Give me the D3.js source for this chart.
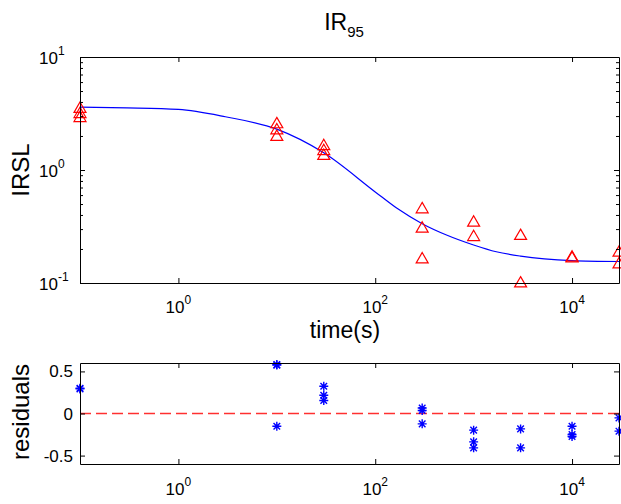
<!DOCTYPE html>
<html>
<head>
<meta charset="utf-8">
<script src="https://cdn.jsdelivr.net/npm/d3@7"></script>
<style>
  body { margin: 0; background: #fff; }
  text { font-family: "Liberation Sans", Arial, sans-serif; fill: #000; }
</style>
</head>
<body>
<script>
//measured IRSL points (triangles)
var dataTime = [0.1, 0.1, 0.1, 10, 10, 10, 30, 30, 30, 300, 300, 300, 1000, 1000, 3000, 3000, 10000, 10000, 30000, 30000];
var dataIrsl = [3.54, 3.19, 2.94, 2.59, 2.29, 2.0, 1.66, 1.5, 1.36, 0.458, 0.309, 0.165, 0.349, 0.26, 0.266, 0.101, 0.171, 0.168, 0.189, 0.149];

//fitted curve
var fitTime = [0.1, 0.3, 1, 3, 10, 30, 100, 165, 300, 530, 1000, 1700, 3000, 10000, 30000];
var fitIrsl = [3.6, 3.55, 3.44, 2.96, 2.3, 1.42, 0.64, 0.46, 0.335, 0.266, 0.217, 0.189, 0.173, 0.158, 0.155];

//residuals (stars)
var resTime = [0.1, 0.1, 10, 10, 10, 30, 30, 30, 300, 300, 300, 1000, 1000, 1000, 3000, 3000, 10000, 10000, 10000, 30000, 30000];
var resValue = [0.292, 0.3, 0.581, 0.575, -0.151, 0.324, 0.217, 0.154, 0.066, 0.036, -0.123, -0.198, -0.337, -0.408, -0.183, -0.408, -0.151, -0.249, -0.273, -0.052, -0.21];

//tick values and labels
var timeTicks = [1, 100, 10000];
var timeExp = ["0", "2", "4"];
var irslTicks = [0.1, 1, 10];
var irslExp = ["-1", "0", "1"];
var irslMinor = [0.2, 0.3, 0.4, 0.5, 0.6, 0.7, 0.8, 0.9, 2, 3, 4, 5, 6, 7, 8, 9];
var resTicks = [-0.5, 0, 0.5];
var resLabels = ["-0.5", "0", "0.5"];

window.onload = function(){
    var w = 621, h = 504;
    var left = 80, right = 619;

    var svg = d3.select("body")
        .append("svg")
        .attr("width", w)
        .attr("height", h)
        .style("background-color", "#fff");

    //shared log scale for time
    var x = d3.scaleLog()
        .domain([0.1, 30000])
        .range([left, right]);

    //top panel scale
    var y = d3.scaleLog()
        .domain([0.1, 10])
        .range([283, 57]);

    //residual panel scale
    var yr = d3.scaleLinear()
        .domain([-0.6, 0.6])
        .range([464, 363]);

    // ---------- top panel ----------
    var top = svg.append("g").attr("class", "topPanel");

    top.append("clipPath").attr("id", "clipTop")
        .append("rect")
        .attr("x", left).attr("y", 57)
        .attr("width", right - left).attr("height", 283 - 57);

    //fit curve
    var fit = fitTime.map(function(t, i){ return [t, fitIrsl[i]]; });
    var line = d3.line()
        .x(function(d){ return x(d[0]); })
        .y(function(d){ return y(d[1]); })
        .curve(d3.curveMonotoneX);
    top.append("path")
        .datum(fit)
        .attr("clip-path", "url(#clipTop)")
        .attr("d", line)
        .attr("fill", "none")
        .attr("stroke", "#0000ff")
        .attr("stroke-width", 1.2);

    //triangles
    var tri = d3.symbol().type(d3.symbolTriangle).size(62);
    top.selectAll(".tri")
        .data(dataTime)
        .enter()
        .append("path")
        .attr("class", "tri")
        .attr("d", tri)
        .attr("transform", function(d, i){
            return "translate(" + x(d) + "," + (y(dataIrsl[i]) + 1) + ")";
        })
        .attr("fill", "none")
        .attr("stroke", "#ff0000")
        .attr("stroke-width", 1.2);

    //axes: ticks point inwards like matlab
    drawBox(top, x, y, 57, 283, timeTicks, irslTicks, irslMinor);

    //x tick labels (10^n)
    top.selectAll(".xlab")
        .data(timeTicks)
        .enter()
        .append("text")
        .attr("class", "xlab")
        .attr("text-anchor", "middle")
        .attr("x", function(d){ return x(d); })
        .attr("y", 313)
        .style("font-size", "17px")
        .each(function(d, i){ powLabel(d3.select(this), timeExp[i]); });

    //y tick labels
    top.selectAll(".ylab")
        .data(irslTicks)
        .enter()
        .append("text")
        .attr("class", "ylab")
        .attr("x", 39)
        .attr("y", function(d){ return y(d) + 7; })
        .style("font-size", "17px")
        .each(function(d, i){ powLabel(d3.select(this), irslExp[i]); });

    //axis titles
    top.append("text")
        .attr("text-anchor", "middle")
        .attr("x", 345)
        .attr("y", 338)
        .style("font-size", "23px")
        .text("time(s)");

    top.append("text")
        .attr("text-anchor", "middle")
        .attr("transform", "translate(29,170) rotate(-90)")
        .style("font-size", "24px")
        .text("IRSL");

    //title with subscript
    var title = top.append("text")
        .attr("text-anchor", "middle")
        .attr("x", 344)
        .attr("y", 30)
        .style("font-size", "23px");
    title.append("tspan").text("IR");
    title.append("tspan")
        .attr("dy", 7)
        .style("font-size", "15px")
        .text("95");

    // ---------- residual panel ----------
    var bot = svg.append("g").attr("class", "residPanel");

    //zero line
    bot.append("line")
        .attr("x1", left).attr("x2", right)
        .attr("y1", yr(0)).attr("y2", yr(0))
        .attr("stroke", "#ff3030")
        .attr("stroke-width", 1.6)
        .attr("stroke-dasharray", "11,5");

    //star markers (+ and x overlaid)
    var s = 4.5, d2 = 3.3;
    var star = "M" + (-s) + ",0H" + s + "M0," + (-s) + "V" + s +
        "M" + (-d2) + "," + (-d2) + "L" + d2 + "," + d2 +
        "M" + (-d2) + "," + d2 + "L" + d2 + "," + (-d2);
    bot.selectAll(".star")
        .data(resTime)
        .enter()
        .append("path")
        .attr("class", "star")
        .attr("d", star)
        .attr("transform", function(d, i){
            return "translate(" + x(d) + "," + yr(resValue[i]) + ")";
        })
        .attr("fill", "none")
        .attr("stroke", "#0000ff")
        .attr("stroke-width", 1.4);

    drawBox(bot, x, yr, 363, 464, timeTicks, resTicks, []);

    bot.selectAll(".xlab2")
        .data(timeTicks)
        .enter()
        .append("text")
        .attr("text-anchor", "middle")
        .attr("x", function(d){ return x(d); })
        .attr("y", 495)
        .style("font-size", "17px")
        .each(function(d, i){ powLabel(d3.select(this), timeExp[i]); });

    bot.selectAll(".ylab2")
        .data(resTicks)
        .enter()
        .append("text")
        .attr("text-anchor", "end")
        .attr("x", 73)
        .attr("y", function(d){ return yr(d) + 6; })
        .style("font-size", "17px")
        .text(function(d, i){ return resLabels[i]; });

    bot.append("text")
        .attr("text-anchor", "middle")
        .attr("transform", "translate(29,412) rotate(-90)")
        .style("font-size", "24px")
        .text("residuals");

    //draws the four sides of an axes box with inward ticks
    function drawBox(g, xs, ys, y0, y1, xt, yt, ym){
        var inner = -5;
        g.append("g").attr("transform", "translate(0," + y1 + ")")
            .call(d3.axisBottom(xs).tickValues(xt).tickFormat("").tickSizeInner(inner).tickSizeOuter(0));
        g.append("g").attr("transform", "translate(0," + y0 + ")")
            .call(d3.axisTop(xs).tickValues(xt).tickFormat("").tickSizeInner(inner).tickSizeOuter(0));
        g.append("g").attr("transform", "translate(" + left + ",0)")
            .call(d3.axisLeft(ys).tickValues(yt).tickFormat("").tickSizeInner(inner).tickSizeOuter(0));
        g.append("g").attr("transform", "translate(" + right + ",0)")
            .call(d3.axisRight(ys).tickValues(yt).tickFormat("").tickSizeInner(inner).tickSizeOuter(0));
        if (ym.length){
            g.append("g").attr("transform", "translate(" + left + ",0)")
                .call(d3.axisLeft(ys).tickValues(ym).tickFormat("").tickSizeInner(-3).tickSizeOuter(0))
                .select(".domain").remove();
            g.append("g").attr("transform", "translate(" + right + ",0)")
                .call(d3.axisRight(ys).tickValues(ym).tickFormat("").tickSizeInner(-3).tickSizeOuter(0))
                .select(".domain").remove();
        }
        g.selectAll(".domain, .tick line").attr("stroke", "#000").attr("stroke-width", 1);
    }

    //writes "10" with an exponent
    function powLabel(t, e){
        t.append("tspan").text("10");
        t.append("tspan")
            .attr("dy", -9)
            .style("font-size", "12px")
            .text(e);
    }
};
</script>
</body>
</html>
